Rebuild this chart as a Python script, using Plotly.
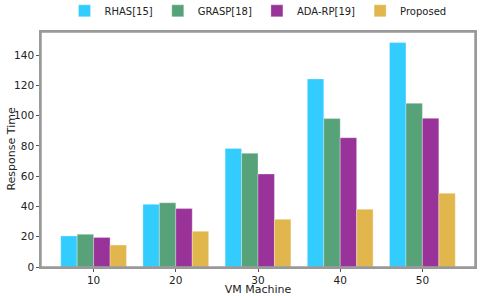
import plotly.graph_objects as go

categories = ["10", "20", "30", "40", "50"]
series_names = ["RHAS[15]", "GRASP[18]", "ADA-RP[19]", "Proposed"]
rhas = [20.5, 41.4, 78.3, 124.2, 148.2]
grasp = [21.6, 42.4, 75.1, 98.0, 108.1]
ada_rp = [19.5, 38.6, 61.4, 85.4, 98.2]
proposed = [14.5, 23.6, 31.5, 38.1, 48.7]
yticks = [0, 20, 40, 60, 80, 100, 120, 140]

colors = ["#33CCFF", "#58A279", "#993399", "#E1B74D"]
values = [rhas, grasp, ada_rp, proposed]

fig = go.Figure()
for name, vals, col in zip(series_names, values, colors):
    fig.add_trace(go.Bar(
        x=categories, y=vals, name=name,
        marker=dict(color=col, line=dict(color="rgba(255,255,255,0.5)", width=0.6)),
    ))

axis_common = dict(
    showline=True, linecolor="#999999", linewidth=1.5, mirror=True,
    ticks="outside", ticklen=3, tickcolor="#555555", tickwidth=1,
    showgrid=False, zeroline=False, automargin=False,
    tickfont=dict(family="DejaVu Sans", size=10.5, color="#222222"),
)

fig.update_layout(
    width=480, height=296,
    margin=dict(l=41, r=5, t=32, b=29, autoexpand=False),
    paper_bgcolor="white", plot_bgcolor="white",
    barmode="group", bargap=0.2, bargroupgap=0,
    font=dict(family="DejaVu Sans", size=10.5, color="#222222"),
    legend=dict(orientation="h", x=0.5, xanchor="center", y=1.09, yanchor="middle",
                font=dict(family="DejaVu Sans", size=10, color="#222222"),
                itemwidth=30, bgcolor="rgba(0,0,0,0)", tracegroupgap=0),
    xaxis=dict(axis_common, range=[-0.64, 4.64],
               title=dict(text="VM Machine", standoff=1,
                          font=dict(family="DejaVu Sans", size=11, color="#222222"))),
    yaxis=dict(axis_common, range=[0, 155.2], tickvals=yticks),
    annotations=[dict(text="Response Time", textangle=-90, showarrow=False,
                      xref="paper", yref="paper", x=-0.069, y=0.5,
                      xanchor="center", yanchor="middle",
                      font=dict(family="DejaVu Sans", size=11, color="#222222"))],
    shapes=[dict(type="rect", xref="paper", yref="paper", x0=0, y0=0, x1=1, y1=1,
                 line=dict(color="#999999", width=1.5), layer="above")],
)

fig.write_html("out.html", config={"displayModeBar": False},
               post_script="document.body.style.margin='0';")
